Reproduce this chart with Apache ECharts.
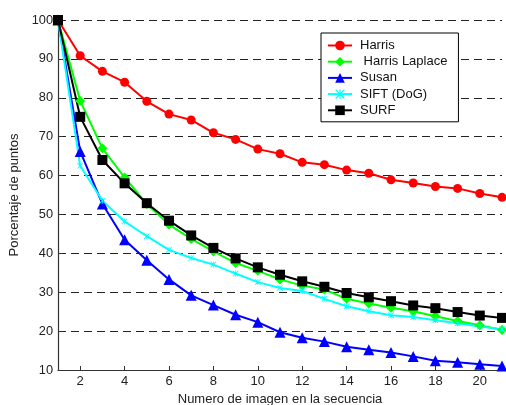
<!DOCTYPE html>
<html>
<head>
<meta charset="utf-8">
<script src="https://cdn.jsdelivr.net/npm/echarts@6/dist/echarts.min.js"></script>
<style>html,body{margin:0;padding:0;background:#fff;}#c{width:506px;height:405px;}</style>
</head>
<body>
<div id="c"></div>
<script>
const images = [1,2,3,4,5,6,7,8,9,10,11,12,13,14,15,16,17,18,19,20,21];
const xTicks = [2,4,6,8,10,12,14,16,18,20];
const harris = [100, 90.8, 86.8, 84.0, 79.1, 75.8, 74.3, 71.0, 69.3, 66.8, 65.6, 63.4, 62.8, 61.4, 60.6, 58.9, 58.1, 57.2, 56.7, 55.4, 54.4];
const harrisLaplace = [100, 79.2, 67.0, 59.5, 52.7, 47.4, 43.7, 40.5, 37.5, 35.5, 33.3, 31.7, 30.7, 28.3, 27.1, 26.0, 25.1, 23.8, 22.6, 21.5, 20.3];
const susan = [100, 66.2, 52.7, 43.5, 38.2, 33.3, 29.2, 26.7, 24.2, 22.3, 19.7, 18.3, 17.3, 16.0, 15.2, 14.5, 13.5, 12.4, 12.0, 11.5, 11.0];
const sift = [100, 62.5, 53.5, 48.2, 44.4, 40.9, 38.8, 37.1, 34.8, 32.6, 31.1, 30.3, 28.3, 26.4, 25.1, 24.1, 23.6, 22.8, 22.0, 21.2, 20.5];
const surf = [100, 75.1, 64.0, 58.0, 52.9, 48.4, 44.6, 41.4, 38.7, 36.4, 34.5, 32.8, 31.4, 29.8, 28.7, 27.7, 26.6, 25.9, 24.9, 24.0, 23.4];
const names = ['Harris', ' Harris Laplace', 'Susan', 'SIFT (DoG)', 'SURF'];

const pairs = arr => images.map((x, i) => [x, arr[i]]);
const FONT = 'Liberation Sans, Arial, Helvetica, sans-serif';
const starPath = 'path://M0,1 L1,0 L5,4 L9,0 L10,1 L6,5 L10,9 L9,10 L5,6 L1,10 L0,9 L4,5 Z M4.4,0 L5.6,0 L5.6,10 L4.4,10 Z';

function mk(name, data, color, symbol, size) {
  return {
    name, type: 'line', data: pairs(data), symbol, symbolSize: size,
    lineStyle: { color, width: 2 }, itemStyle: { color, borderWidth: 0 },
    clip: false
  };
}

const chart = echarts.init(document.getElementById('c'), null, { renderer: 'canvas' });
chart.setOption({
  animation: false,
  backgroundColor: '#ffffff',
  textStyle: { fontFamily: FONT },
  grid: { left: 58, top: 20, right: 4, bottom: 35, containLabel: false, outerBoundsMode: 'none' },
  xAxis: {
    type: 'value', min: 1, max: 21,
    name: 'Numero de imagen en la secuencia', nameLocation: 'middle', nameGap: 21.5,
    nameTextStyle: { fontSize: 13, color: '#222', fontFamily: FONT },
    axisLine: { lineStyle: { color: '#333', width: 1.2 } },
    axisTick: { show: true, inside: true, length: 4, customValues: xTicks, lineStyle: { color: '#333' } },
    axisLabel: { customValues: xTicks, fontSize: 13, color: '#222', margin: 5, fontFamily: FONT },
    splitLine: { show: false }
  },
  yAxis: {
    type: 'value', min: 10, max: 100, interval: 10,
    name: 'Porcentaje de puntos', nameLocation: 'middle', nameGap: 27, nameRotate: 90,
    nameTextStyle: { fontSize: 13, color: '#222', fontFamily: FONT },
    axisLine: { show: true, lineStyle: { color: '#333', width: 1.2 } },
    axisTick: { show: true, inside: true, length: 4, lineStyle: { color: '#333' } },
    axisLabel: { fontSize: 12.8, color: '#222', margin: 5, fontFamily: FONT },
    splitLine: { show: true, lineStyle: { color: '#222', type: [8, 5], width: 1 } }
  },
  legend: {
    orient: 'vertical', left: 321, top: 33,
    data: names,
    itemWidth: 24, itemHeight: 12, itemGap: 3.2,
    padding: [6, 11, 5, 6],
    borderColor: '#000', borderWidth: 1, backgroundColor: '#fff',
    lineStyle: { width: 2 },
    textStyle: { fontSize: 13, color: '#111', fontFamily: FONT, padding: [0, 0, 0, 3] }
  },
  series: [
    mk(names[0], harris, '#ff0000', 'circle', 9),
    mk(names[1], harrisLaplace, '#00ff00', 'diamond', 10),
    mk(names[2], susan, '#0000ff', 'triangle', 11),
    mk(names[3], sift, '#00ffff', starPath, 6),
    mk(names[4], surf, '#000000', 'rect', 10)
  ]
});
</script>
</body>
</html>
